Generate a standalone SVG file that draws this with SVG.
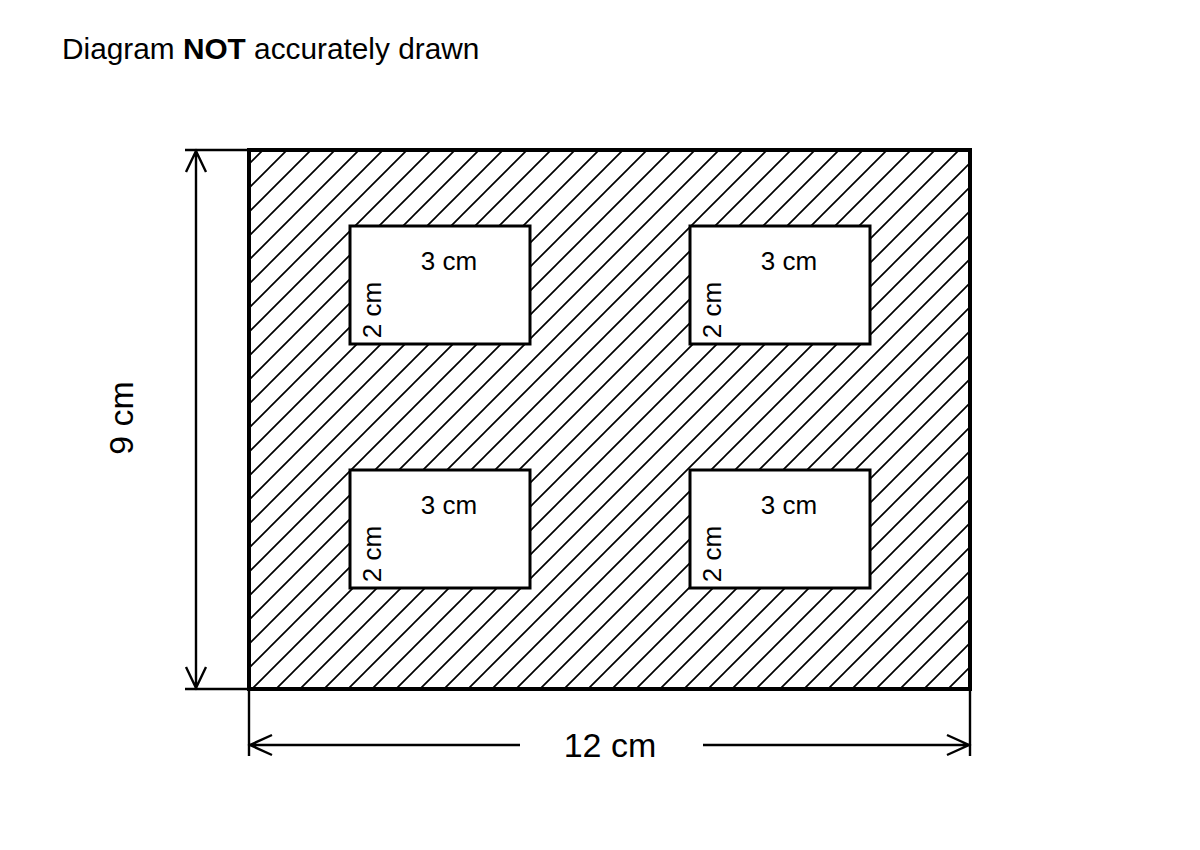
<svg xmlns="http://www.w3.org/2000/svg" width="1200" height="850" viewBox="0 0 1200 850">
<style>
text{font-family:"Liberation Sans",Arial,sans-serif;fill:#000}
.t{font-size:29.8px}
.lbl{font-size:26px;text-anchor:middle}
.big{font-size:34px;text-anchor:middle}
.dim{stroke:#000;stroke-width:2.4;fill:none}
.hole{fill:#fff;stroke:#000;stroke-width:3}
</style>
<defs>
<pattern id="hatch" patternUnits="userSpaceOnUse" x="5" y="0" width="24" height="24">
<path d="M-6,6 L6,-6 M0,24 L24,0 M18,30 L30,18" stroke="#000" stroke-width="1.7"/>
</pattern>
</defs>
<rect width="1200" height="850" fill="#fff"/>
<text class="t" x="62" y="59">Diagram <tspan font-weight="bold">NOT</tspan> accurately drawn</text>
<g id="plate">
<rect x="249" y="150" width="721" height="539" fill="url(#hatch)" stroke="#000" stroke-width="4"/>
</g>
<g id="hole1">
<rect class="hole" x="350" y="226" width="180" height="118"/>
<text class="lbl" x="449" y="270">3 cm</text>
<text class="lbl" transform="translate(381,310) rotate(-90)">2 cm</text>
</g>
<g id="hole2">
<rect class="hole" x="690" y="226" width="180" height="118"/>
<text class="lbl" x="789" y="270">3 cm</text>
<text class="lbl" transform="translate(721,310) rotate(-90)">2 cm</text>
</g>
<g id="hole3">
<rect class="hole" x="350" y="470" width="180" height="118"/>
<text class="lbl" x="449" y="514">3 cm</text>
<text class="lbl" transform="translate(381,554) rotate(-90)">2 cm</text>
</g>
<g id="hole4">
<rect class="hole" x="690" y="470" width="180" height="118"/>
<text class="lbl" x="789" y="514">3 cm</text>
<text class="lbl" transform="translate(721,554) rotate(-90)">2 cm</text>
</g>
<g id="connectors">
<path class="dim" d="M185,150 H249 M185,689 H249 M196,151 V688 M186,172 L196,151 L206,172 M186,667 L196,688 L206,667"/>
<path class="dim" d="M249,689 V756 M970,689 V756 M250,745 H520 M703,745 H969 M272,735 L250,745 L272,755 M947,735 L969,745 L947,755"/>
</g>
<g id="dimlabels">
<text class="big" x="610" y="757">12 cm</text>
<text class="big" transform="translate(133,418) rotate(-90)">9 cm</text>
</g>
</svg>
